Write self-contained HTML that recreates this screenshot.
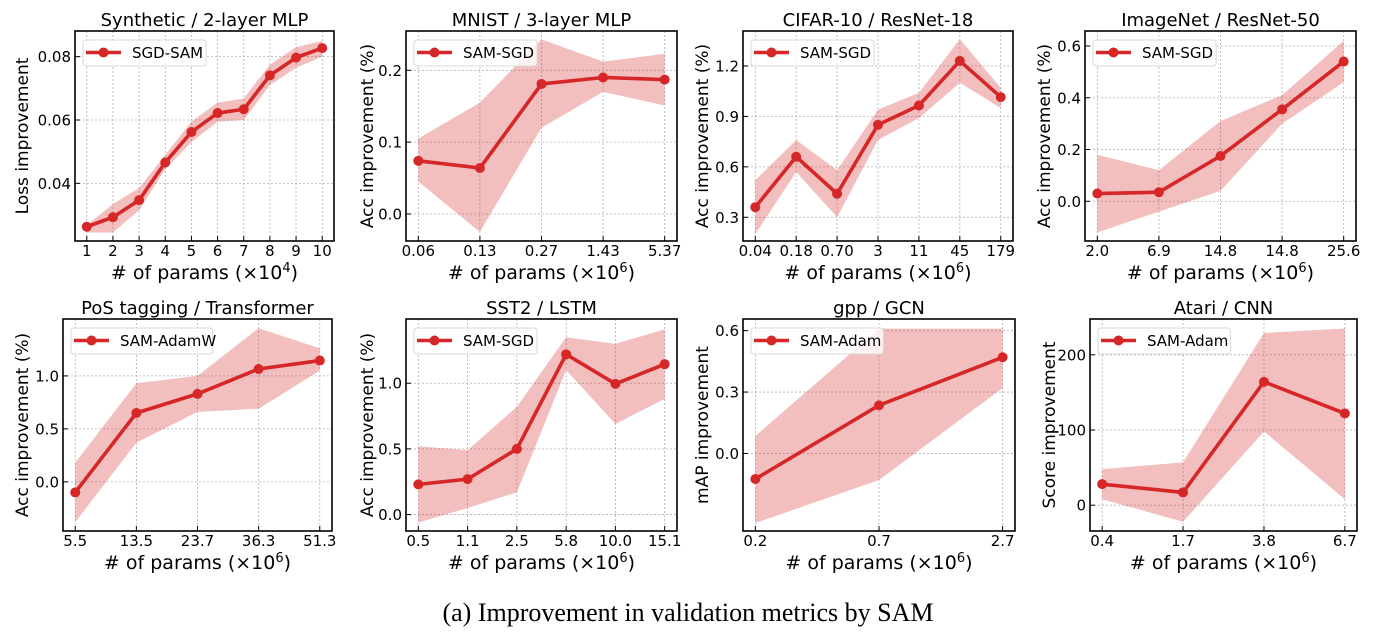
<!DOCTYPE html>
<html><head><meta charset="utf-8"><style>
html,body{margin:0;padding:0;background:#fff;}
svg{display:block;font-family:"DejaVu Sans","Liberation Sans",sans-serif;}
</style></head><body>
<svg id="fig" width="1373" height="644" viewBox="0 0 1373 644" xmlns="http://www.w3.org/2000/svg">
<text x="688" y="621" text-anchor="middle" font-family="Liberation Serif, serif" font-size="26">(a) Improvement in validation metrics by SAM</text>
</svg>
<script>
// ---- data arrays ----
const p1Cats = ["1","2","3","4","5","6","7","8","9","10"];
const p1Vals = [0.0263,0.0293,0.0347,0.0466,0.0562,0.0622,0.0634,0.0741,0.0797,0.0827];
const p1Up = [0.0268,0.0335,0.0385,0.0490,0.0595,0.0655,0.0668,0.0775,0.0830,0.0850];
const p1Lo = [0.0245,0.0245,0.0315,0.0445,0.0530,0.0595,0.0600,0.0710,0.0765,0.0800];
const p1Ticks = [0.04,0.06,0.08];
const p2Cats = ["0.06","0.13","0.27","1.43","5.37"];
const p2Vals = [0.074,0.064,0.181,0.190,0.187];
const p2Up = [0.105,0.155,0.243,0.212,0.223];
const p2Lo = [0.045,-0.025,0.120,0.170,0.151];
const p2Ticks = [0.0,0.1,0.2];
const p3Cats = ["0.04","0.18","0.70","3","11","45","179"];
const p3Vals = [0.36,0.66,0.44,0.85,0.965,1.23,1.015];
const p3Up = [0.52,0.76,0.58,0.94,1.04,1.36,1.07];
const p3Lo = [0.20,0.57,0.30,0.76,0.89,1.10,0.95];
const p3Ticks = [0.3,0.6,0.9,1.2];
const p4Cats = ["2.0","6.9","14.8","14.8","25.6"];
const p4Vals = [0.03,0.035,0.175,0.355,0.54];
const p4Up = [0.18,0.12,0.31,0.41,0.62];
const p4Lo = [-0.12,-0.04,0.04,0.30,0.46];
const p4Ticks = [0.0,0.2,0.4,0.6];
const p5Cats = ["5.5","13.5","23.7","36.3","51.3"];
const p5Vals = [-0.10,0.65,0.83,1.065,1.145];
const p5Up = [0.18,0.93,1.00,1.45,1.26];
const p5Lo = [-0.38,0.37,0.66,0.69,1.05];
const p5Ticks = [0.0,0.5,1.0];
const p6Cats = ["0.5","1.1","2.5","5.8","10.0","15.1"];
const p6Vals = [0.23,0.27,0.50,1.22,0.995,1.145];
const p6Up = [0.52,0.49,0.82,1.35,1.30,1.41];
const p6Lo = [-0.06,0.05,0.17,1.10,0.69,0.88];
const p6Ticks = [0.0,0.5,1.0];
const p7Cats = ["0.2","0.7","2.7"];
const p7Vals = [-0.125,0.235,0.47];
const p7Up = [0.085,0.61,0.61];
const p7Lo = [-0.34,-0.13,0.32];
const p7Ticks = [0.0,0.3,0.6];
const p8Cats = ["0.4","1.7","3.8","6.7"];
const p8Vals = [28,17,164,122];
const p8Up = [48,57,229,235];
const p8Lo = [8,-22,98,8];
const p8Ticks = [0,100,200];

const NS="http://www.w3.org/2000/svg";
const svg=document.getElementById('fig');
function mk(tag,attrs,parent){const e=document.createElementNS(NS,tag);for(const k in attrs)e.setAttribute(k,attrs[k]);(parent||svg).appendChild(e);return e;}

const panels=[
 {id:"synthetic",title:"Synthetic / 2-layer MLP",ylab:"Loss improvement",leg:"SGD-SAM",exp:"4",cats:p1Cats,vals:p1Vals,up:p1Up,lo:p1Lo,ticks:p1Ticks,dec:2,box:[75,31,334,241],dom:[0.0218,0.0881],ylx:23},
 {id:"mnist",title:"MNIST / 3-layer MLP",ylab:"Acc improvement (%)",leg:"SAM-SGD",exp:"6",cats:p2Cats,vals:p2Vals,up:p2Up,lo:p2Lo,ticks:p2Ticks,dec:1,box:[406,31,677,241],dom:[-0.0376,0.2547],ylx:368},
 {id:"cifar",title:"CIFAR-10 / ResNet-18",ylab:"Acc improvement (%)",leg:"SAM-SGD",exp:"6",cats:p3Cats,vals:p3Vals,up:p3Up,lo:p3Lo,ticks:p3Ticks,dec:1,box:[743,31,1013,241],dom:[0.159,1.408],ylx:703},
 {id:"imagenet",title:"ImageNet / ResNet-50",ylab:"Acc improvement (%)",leg:"SAM-SGD",exp:"6",cats:p4Cats,vals:p4Vals,up:p4Up,lo:p4Lo,ticks:p4Ticks,dec:1,box:[1085,31,1356,241],dom:[-0.1535,0.658],ylx:1045},
 {id:"pos",title:"PoS tagging / Transformer",ylab:"Acc improvement (%)",leg:"SAM-AdamW",exp:"6",cats:p5Cats,vals:p5Vals,up:p5Up,lo:p5Lo,ticks:p5Ticks,dec:1,box:[63,319,332,531],dom:[-0.464,1.537],ylx:23},
 {id:"sst2",title:"SST2 / LSTM",ylab:"Acc improvement (%)",leg:"SAM-SGD",exp:"6",cats:p6Cats,vals:p6Vals,up:p6Up,lo:p6Lo,ticks:p6Ticks,dec:1,box:[406,319,677,531],dom:[-0.125,1.489],ylx:368},
 {id:"gpp",title:"gpp / GCN",ylab:"mAP improvement",leg:"SAM-Adam",exp:"6",cats:p7Cats,vals:p7Vals,up:p7Up,lo:p7Lo,ticks:p7Ticks,dec:1,box:[743,319,1015,531],dom:[-0.379,0.657],ylx:703},
 {id:"atari",title:"Atari / CNN",ylab:"Score improvement",leg:"SAM-Adam",exp:"6",cats:p8Cats,vals:p8Vals,up:p8Up,lo:p8Lo,ticks:p8Ticks,dec:0,box:[1090,319,1357,531],dom:[-34.3,247.6],ylx:1050}
];
const RED="#d62728";
panels.forEach(p=>{
 const [x0,y0,x1,y1]=p.box;
 const n=p.cats.length;
 const g=mk('g',{});
 
 
 const xs=i=>{const lo=-0.05*(n-1),hi=(n-1)*1.05;return x0+(i-lo)/(hi-lo)*(x1-x0);};
 const ys=v=>y1-(v-p.dom[0])/(p.dom[1]-p.dom[0])*(y1-y0);
 p.cats.forEach((c,i)=>{const l=mk('line',{x1:xs(i),x2:xs(i),y1:y0,y2:y1,stroke:"#b0b0b0","stroke-width":0.8,"stroke-dasharray":"2,2"},g);
  });
 p.ticks.forEach(t=>{const l=mk('line',{x1:x0,x2:x1,y1:ys(t),y2:ys(t),stroke:"#b0b0b0","stroke-width":0.8,"stroke-dasharray":"2,2"},g);
  });
 let pts=p.up.map((v,i)=>xs(i)+","+ys(v));
 pts=pts.concat(p.lo.map((v,i)=>xs(i)+","+ys(v)).reverse());
 const band=mk('polygon',{points:pts.join(' '),fill:RED,"fill-opacity":0.3,stroke:"none"},g);
 
 const line=mk('polyline',{points:p.vals.map((v,i)=>xs(i)+","+ys(v)).join(' '),fill:"none",stroke:RED,"stroke-width":3.6,"stroke-linejoin":"round"},g);
 
 p.vals.forEach((v,i)=>{const c=mk('circle',{cx:xs(i),cy:ys(v),r:5,fill:RED},g);
  });
 const bx=mk('rect',{x:x0,y:y0,width:x1-x0,height:y1-y0,fill:"none",stroke:"#000","stroke-width":1.6},g);
 
 p.cats.forEach((c,i)=>{mk('line',{x1:xs(i),x2:xs(i),y1:y1,y2:y1-5,stroke:"#000","stroke-width":1},g);
  const t=mk('text',{x:xs(i),y:y1+15,"text-anchor":"middle","font-size":15},g);t.textContent=c;
  });
 p.ticks.forEach(v=>{mk('line',{x1:x0,x2:x0+5,y1:ys(v),y2:ys(v),stroke:"#000","stroke-width":1},g);
  const t=mk('text',{x:x0-4,y:ys(v)+5.5,"text-anchor":"end","font-size":15},g);t.textContent=v.toFixed(p.dec);
  });
 const ti=mk('text',{x:(x0+x1)/2,y:y0-5,"text-anchor":"middle","font-size":18},g);ti.textContent=p.title;
 
 const xl=mk('text',{x:(x0+x1)/2,y:y1+38,"text-anchor":"middle","font-size":19},g);
 
 xl.textContent="# of params (\u00d710";
 const sup=mk('tspan',{dy:-7,"font-size":13},xl);sup.textContent=p.exp;
 const cl=mk('tspan',{dy:7},xl);cl.textContent=")";
 const yc=(y0+y1)/2;
 const yl=mk('text',{x:p.ylx,y:yc,"text-anchor":"middle","font-size":17,transform:`rotate(-90 ${p.ylx} ${yc})`,"dominant-baseline":"central"},g);
 yl.textContent=p.ylab;
 
 const lg=mk('g',{},g);
 
 const lw=58+p.leg.length*9.3;
 mk('rect',{x:x0+8,y:y0+9,width:lw,height:26,rx:3,fill:"#fff","fill-opacity":0.8,stroke:"#d8d8d8","stroke-width":1},lg);
 mk('line',{x1:x0+11,x2:x0+46,y1:y0+21.5,y2:y0+21.5,stroke:RED,"stroke-width":3.6},lg);
 mk('circle',{cx:x0+28.5,cy:y0+21.5,r:5,fill:RED},lg);
 const lt=mk('text',{x:x0+57,y:y0+27,"font-size":15},lg);lt.textContent=p.leg;
 
});
</script>
</body></html>
